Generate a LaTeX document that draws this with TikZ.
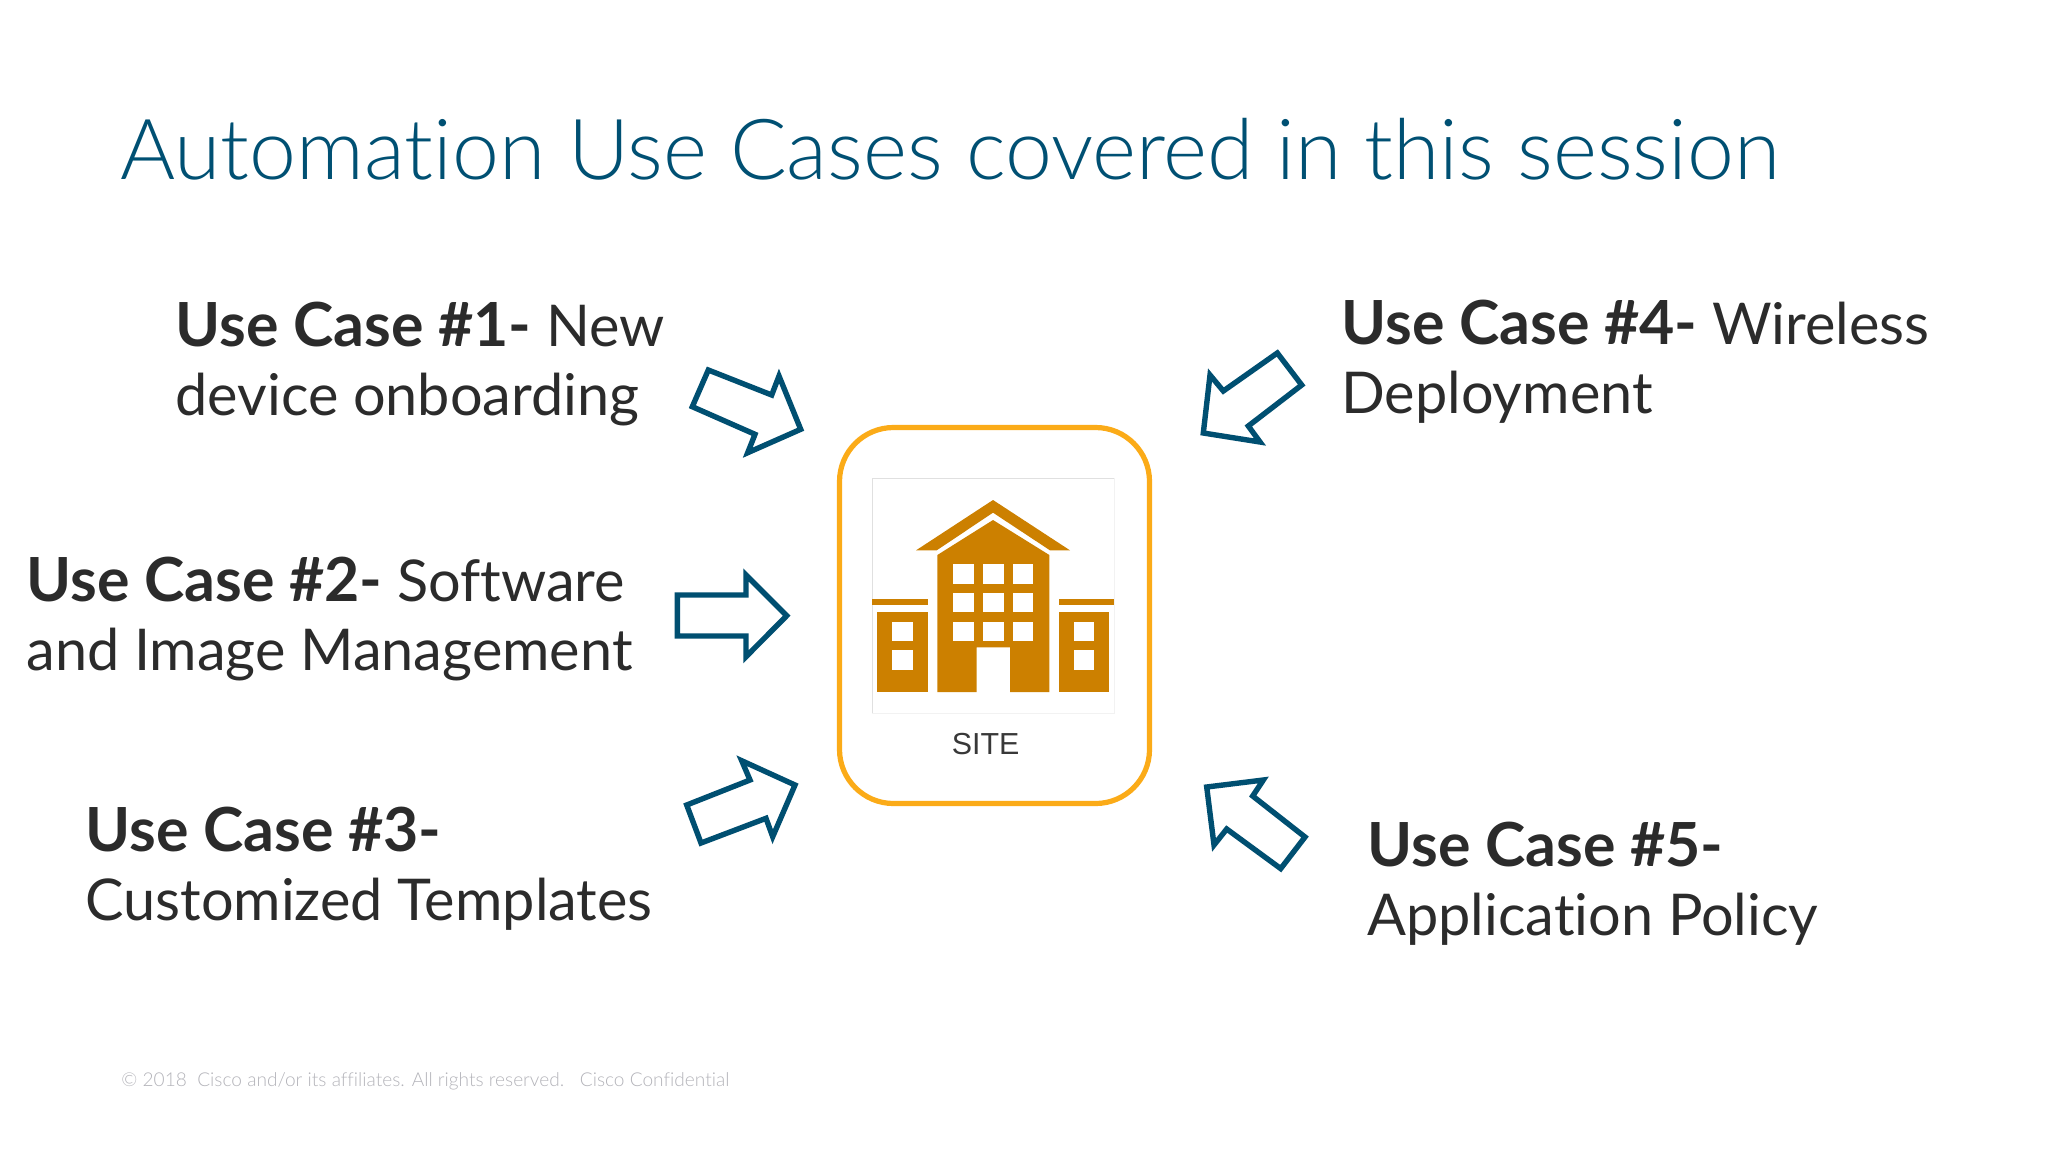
\documentclass[tikz,border=0pt]{standalone}
\usepackage{fontspec}
\setmainfont{Lato}[Ligatures=NoCommon]
\newfontfamily\lightfont{Lato Light}[Ligatures=NoCommon]
\newfontfamily\sitefont{Liberation Sans}
\definecolor{titleblue}{HTML}{005073}
\definecolor{arrowblue}{HTML}{004F71}
\definecolor{bodyink}{HTML}{2B2B2B}
\definecolor{bldg}{HTML}{CC8000}
\definecolor{frameorange}{HTML}{FBAB18}
\definecolor{footgray}{HTML}{B4B4BA}
\newcommand{\ucname}[1]{{\fontsize{30.4}{34.5}\selectfont\bfseries #1}}
\tikzset{
  usecase/.style={anchor=north west,inner sep=0pt,align=left,text=bodyink,font=\fontsize{28.8}{34.5}\selectfont},
  fatarrow/.style={draw=arrowblue,line width=2.7pt,miter limit=10,line join=miter},
  wall/.style={fill=bldg,draw=none},
  pane/.style={fill=white,draw=none}
}
\begin{document}
\begin{tikzpicture}[x=0.5pt,y=-0.5pt]
\useasboundingbox (0,0) rectangle (2048,1152);
\fill[white] (0,0) rectangle (2048,1152);

\node[anchor=base west,inner sep=0pt,text=titleblue,font=\lightfont\fontsize{42.1}{48}\selectfont] (title) at (120,179.5) {Automation Use Cases covered in this session};

\node[usecase] (uc1) at (175,302) {\ucname{Use Case \#1-} New\\device onboarding};
\node[usecase] (uc2) at (26,557) {\ucname{Use Case \#2-} Software\\and Image Management};
\node[usecase] (uc3) at (85,806.5) {\ucname{Use Case \#3-}\\Customized Templates};
\node[usecase] (uc4) at (1341,300) {\ucname{Use Case \#4-} Wireless\\Deployment};
\node[usecase] (uc5) at (1367,821.5) {\ucname{Use Case \#5-}\\Application Policy};

\node[anchor=base west,inner sep=0pt,text=footgray,font=\lightfont\fontsize{9.55}{11}\selectfont] (foot) at (121,1086) {© 2018\ \ Cisco and/or its affiliates. All rights reserved.\ \ \ Cisco Confidential};

% site card
\draw[frameorange,line width=2.6pt,rounded corners=27pt] (839.5,427.5) rectangle (1149.5,803.5);
\draw[black!12,line width=0.4pt] (1114.3,478.3) -- (872.3,478.3) -- (872.3,713.3);
\draw[black!5,line width=0.4pt] (872.3,713.3) -- (1114.3,713.3) -- (1114.3,478.3);

% building, in the pixel grid of the card
\begin{scope}[shift={(820,410)},x=0.1666667pt,y=-0.1666667pt]
\fill[wall] (519,270) -- (750,421) -- (690,421) -- (519,308) -- (350,421) -- (288,421) -- cycle;
\fill[wall] (352,435) -- (519,330) -- (688,435) -- (688,846) -- (570,846) -- (570,712) -- (470,712) -- (470,846) -- (352,846) -- cycle;
\foreach \wx in {400,490,579}
  \foreach \wy/\wh in {461/60,549/58,635/58}
    \fill[pane] (\wx,\wy) rectangle ++(61,\wh);
\fill[wall] (157,568) rectangle (323,585);
\fill[wall] (172,605) rectangle (323,846);
\fill[pane] (216,635) rectangle (278,693);
\fill[pane] (216,721) rectangle (278,779);
\fill[wall] (717,568) rectangle (883,585);
\fill[wall] (717,605) rectangle (868,846);
\fill[pane] (762,635) rectangle (823,693);
\fill[pane] (762,721) rectangle (823,779);
\end{scope}

\node[anchor=base,inner sep=0pt,text=black!78,font=\sitefont\fontsize{15.2}{19}\selectfont] (site) at (985.7,754) {SITE};

% block arrows
\draw[fatarrow] (708.3,370) -- (771.7,395) -- (779,376) -- (800.7,429.3) -- (747.7,452.7) -- (755,434.3) -- (692.3,406.7) -- cycle;
\draw[fatarrow] (677.3,595) -- (746,595) -- (746,575) -- (786.7,615.7) -- (746,656.7) -- (746,636) -- (677.3,636) -- cycle;
\draw[fatarrow] (686.7,805) -- (750,780) -- (741.7,760.7) -- (795,785) -- (772.7,836.7) -- (766,818.3) -- (701,843) -- cycle;
\draw[fatarrow] (1277.3,353) -- (1223.3,391) -- (1210,375) -- (1203.3,433) -- (1260,442) -- (1248.3,426) -- (1301.7,385) -- cycle;
\draw[fatarrow] (1206.7,787) -- (1263.3,780) -- (1252.7,796) -- (1305,837) -- (1280.7,868.6) -- (1226.7,829) -- (1214,845) -- cycle;
\end{tikzpicture}
\end{document}
